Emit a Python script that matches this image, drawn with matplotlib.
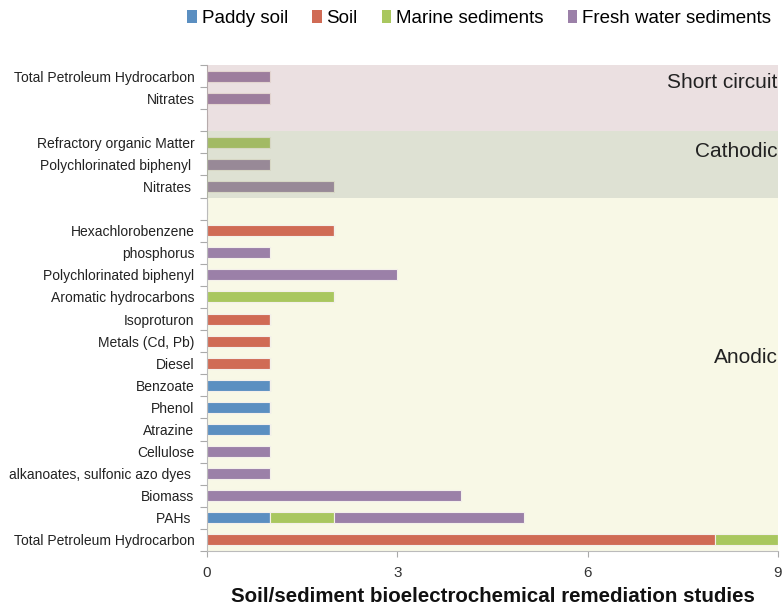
import matplotlib
matplotlib.use("Agg")
import matplotlib.pyplot as plt
from matplotlib.patches import Patch
import numpy as np

plt.rcParams["font.family"] = ["Liberation Sans", "DejaVu Sans"]

# Pollutant categories, bottom to top (empty strings are spacer rows)
categories = [
    "Total Petroleum Hydrocarbon", "PAHs ", "Biomass", "alkanoates, sulfonic azo dyes ",
    "Cellulose", "Atrazine", "Phenol", "Benzoate", "Diesel", "Metals (Cd, Pb)",
    "Isoproturon", "Aromatic hydrocarbons", "Polychlorinated biphenyl", "phosphorus",
    "Hexachlorobenzene", "", "Nitrates ", "Polychlorinated biphenyl ",
    "Refractory organic Matter", "", "Nitrates", "Total Petroleum Hydrocarbon",
]
paddy_soil = [0, 1, 0, 0, 0, 1, 1, 1, 0, 0, 0, 0, 0, 0, 0, 0, 0, 0, 0, 0, 0, 0]
soil       = [8, 0, 0, 0, 0, 0, 0, 0, 1, 1, 1, 0, 0, 0, 2, 0, 0, 0, 0, 0, 0, 0]
marine     = [1, 1, 0, 0, 0, 0, 0, 0, 0, 0, 0, 2, 0, 0, 0, 0, 0, 0, 1, 0, 0, 0]
freshwater = [0, 3, 4, 1, 1, 0, 0, 0, 0, 0, 0, 0, 3, 1, 0, 0, 2, 1, 0, 0, 1, 1]

series_names = ["Paddy soil", "Soil", "Marine sediments", "Fresh water sediments"]
series_colors = ["#5b8fc1", "#d06b55", "#a9c75f", "#9b80a8"]

# Electrode regions: (label, lower row edge, upper row edge)
regions = [("Anodic", -0.5, 15.5), ("Cathodic", 15.5, 18.5), ("Short circuit", 18.5, 21.5)]
region_label_y = [8.25, 17.6, 20.7]

fig = plt.figure(figsize=(7.83, 6.06), dpi=100)
ax = fig.add_axes([0.2644, 0.0908, 0.7292, 0.8019])

y = np.arange(len(categories))
left = np.zeros(len(categories))
for vals, name, col in zip([paddy_soil, soil, marine, freshwater], series_names, series_colors):
    v = np.array(vals, dtype=float)
    ax.barh(y, v, left=left, height=0.5, color=col, edgecolor="#f4f0ea",
            linewidth=0.8, zorder=2)
    left += v

# anodic band sits behind the bars; the other two bands are tinted washes over them
ax.axhspan(regions[0][1], regions[0][2], facecolor="#f8f8e6", edgecolor="none", zorder=1)
ax.axhspan(regions[1][1], regions[1][2], facecolor="#949e70", alpha=0.3,
           edgecolor="none", zorder=3)
ax.axhspan(regions[2][1], regions[2][2], facecolor="#a77377", alpha=0.22,
           edgecolor="none", zorder=3)

for (name, lo, hi), ly in zip(regions, region_label_y):
    ax.text(8.99, ly, name, ha="right", va="center", fontsize=15,
            color="#222222", zorder=4)

ax.set_xlim(0, 9)
ax.set_ylim(-0.5, 21.5)
ax.set_xticks([0, 3, 6, 9])
ax.set_yticks(y)
ax.set_yticklabels(categories, fontsize=10, color="#222222")
ax.set_yticks(np.arange(-0.5, 21.6, 1), minor=True)
ax.tick_params(axis="y", which="major", length=0, pad=9)
ax.tick_params(axis="y", which="minor", length=5, color="#aaaaaa", width=0.8)
ax.tick_params(axis="x", length=4, color="#aaaaaa", labelsize=11,
               labelcolor="#333333", pad=7)

for s in ["top", "right"]:
    ax.spines[s].set_visible(False)
for s in ["left", "bottom"]:
    ax.spines[s].set_color("#bbbbbb")
    ax.spines[s].set_linewidth(0.8)

ax.set_xlabel("Soil/sediment bioelectrochemical remediation studies",
              fontsize=14.8, fontweight="bold", labelpad=5, color="#111111")

handles = [Patch(facecolor=c, edgecolor="none") for c in series_colors]
fig.legend(handles, series_names, loc="center right", bbox_to_anchor=(1.006, 0.969),
           ncol=4, frameon=False, handlelength=0.5, handleheight=0.7,
           handletextpad=0.25, columnspacing=1.3,
           prop={"family": ["Liberation Sans Narrow", "Liberation Sans"], "size": 13.5})

fig.savefig("out.png", dpi=100)
